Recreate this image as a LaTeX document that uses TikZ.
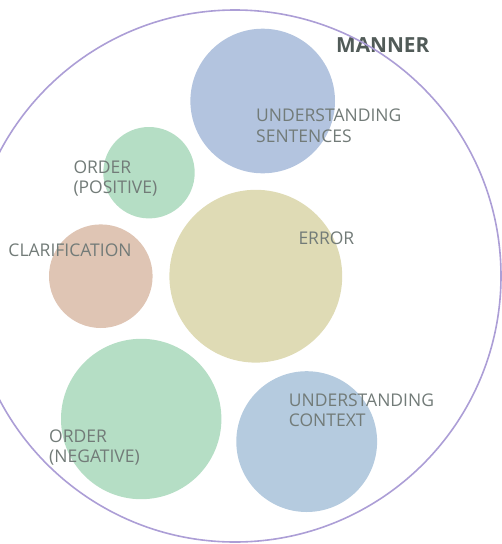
\documentclass[tikz,border=0pt]{standalone}
\usepackage{fontspec}
\setmainfont{Open Sans}
\definecolor{ringline}{HTML}{AC9ED6}
\definecolor{labelgray}{HTML}{727B78}
\definecolor{titlegray}{HTML}{515B58}
\definecolor{fillblue}{HTML}{B3C4DF}
\definecolor{fillgreen}{HTML}{B5DEC5}
\definecolor{fillrose}{HTML}{DFC5B4}
\definecolor{fillsand}{HTML}{DFDBB5}
\definecolor{fillsky}{HTML}{B5CBDF}
\tikzset{
  bubble/.style={circle, draw=none, inner sep=0pt},
  lbl/.style={anchor=base west, inner sep=0pt, text=labelgray,
    font=\fontsize{17.5}{21}\selectfont},
  title/.style={anchor=base west, inner sep=0pt, text=titlegray,
    font=\fontsize{20.8}{25}\selectfont\bfseries},
}
\begin{document}
\begin{tikzpicture}[x=1pt,y=-1pt]
  \useasboundingbox (0,0) rectangle (502,544);
  \clip (0,0) rectangle (502,544);
  % category bubbles
  \node[bubble, fill=fillblue,  minimum size=144.6pt] (sent) at (262.7,101) {};
  \node[bubble, fill=fillgreen, minimum size=91.4pt]  (opos) at (149,172.7) {};
  \node[bubble, fill=fillrose,  minimum size=103.6pt] (clar) at (100.8,276.2) {};
  \node[bubble, fill=fillsand,  minimum size=172.8pt] (err)  at (255.8,276.2) {};
  \node[bubble, fill=fillgreen, minimum size=160.4pt] (oneg) at (141.2,419) {};
  \node[bubble, fill=fillsky,   minimum size=140.8pt] (ctx)  at (306.7,441.6) {};
  % labels
  \node[title] (mann) at (336,52.3) {MANNER};
  \node[lbl] (senta) at (256,121.2) {UNDERSTANDING};
  \node[lbl] (sentb) at (256,142) {SENTENCES};
  \node[lbl] (oposa) at (73.3,173.3) {ORDER};
  \node[lbl] (oposb) at (73.3,193.5) {(POSITIVE)};
  \node[lbl] (clara) at (8.3,256) {CLARIFICATION};
  \node[lbl] (erra)  at (298.3,244.8) {ERROR};
  \node[lbl] (onega) at (49,442.7) {ORDER};
  \node[lbl] (onegb) at (49,462.8) {(NEGATIVE)};
  \node[lbl] (ctxa)  at (288.7,406) {UNDERSTANDING};
  \node[lbl] (ctxb)  at (288.7,426.3) {CONTEXT};
  % enclosing ring
  \node[circle, draw=ringline, line width=1.6pt, inner sep=0pt,
        minimum size=532pt] (ring) at (235,276) {};
\end{tikzpicture}
\end{document}
